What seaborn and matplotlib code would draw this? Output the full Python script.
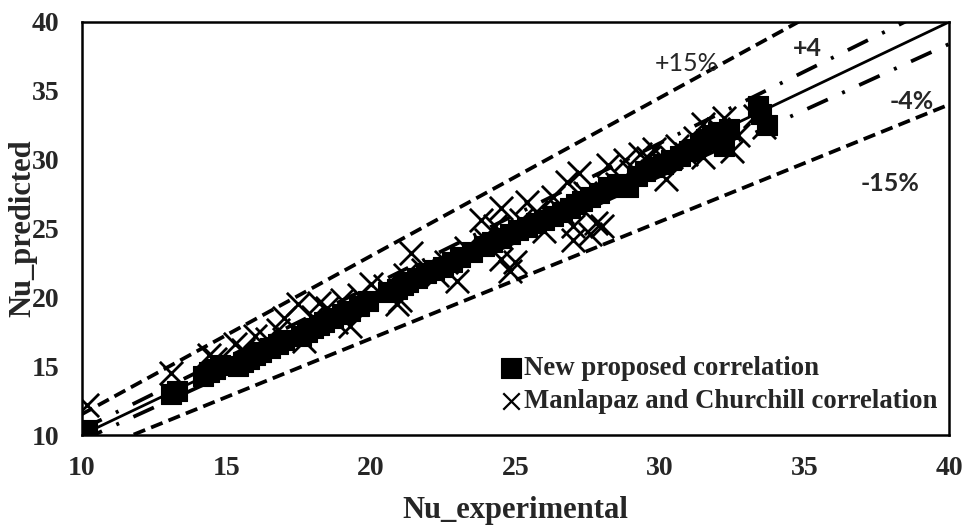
import matplotlib
matplotlib.use("Agg")
import matplotlib.pyplot as plt
import seaborn as sns
import numpy as np
import pandas as pd

# ---------------- data ----------------
new_x = [10.2, 13.1, 13.3, 14.2, 14.4, 14.6, 14.8, 15.4, 15.6, 15.8, 16.0, 16.2, 16.5, 16.8,
         17.0, 17.6, 17.8, 18.0, 18.2, 18.4, 18.7, 19.0, 19.3, 19.6, 19.9, 20.6, 20.9, 21.1,
         21.3, 21.6, 21.9, 22.2, 22.5, 22.8, 23.1, 23.5, 23.9, 24.2, 24.5, 24.8, 25.1, 25.4,
         25.7, 26.0, 26.3, 26.6, 26.9, 27.1, 27.3, 27.6, 27.9, 28.2, 28.5, 28.9, 29.2, 29.5,
         29.8, 30.1, 30.4, 30.7, 31.0, 31.2, 31.4, 31.6, 31.8, 32.0, 32.2, 32.4, 33.4, 33.5, 33.7]
new_y = [10.4, 13.0, 13.2, 14.3, 14.6, 14.8, 15.1, 15.0, 15.3, 15.5, 15.8, 16.0, 16.3, 16.6,
         16.9, 17.2, 17.5, 17.8, 18.0, 18.2, 18.5, 18.8, 19.0, 19.4, 19.7, 20.4, 20.6, 20.9,
         21.1, 21.4, 21.8, 22.0, 22.2, 22.6, 22.9, 23.3, 23.7, 24.0, 24.3, 24.6, 24.9, 25.1,
         25.4, 25.6, 25.9, 26.2, 26.5, 26.8, 27.0, 27.3, 27.6, 28.0, 28.2, 28.0, 28.8, 29.2,
         29.5, 29.7, 30.0, 30.3, 30.6, 30.8, 31.2, 31.5, 31.8, 32.0, 31.0, 32.2, 33.9, 33.3, 32.5]

mc_x = [10.2, 13.1, 14.4, 14.6, 15.3, 15.6, 16.0, 16.4, 16.8, 17.0, 17.5, 17.7, 18.0, 18.2,
        18.5, 18.8, 19.0, 19.3, 19.6, 20.0, 20.5, 20.9, 21.0, 21.2, 21.4, 21.8, 22.3, 22.6,
        23.0, 23.3, 23.8, 24.0, 24.3, 24.5, 24.5, 24.8, 25.0, 25.2, 25.4, 25.7, 26.0, 26.3,
        26.6, 26.8, 27.0, 27.0, 27.2, 27.4, 27.6, 27.8, 28.0, 28.2, 28.5, 28.8, 29.0, 29.3,
        29.6, 29.8, 30.2, 30.4, 30.6, 30.9, 31.2, 31.5, 31.5, 31.8, 32.0, 32.2, 32.5, 32.7,
        33.3, 33.6]
mc_y = [12.2, 14.5, 15.8, 15.5, 16.6, 16.2, 17.2, 17.0, 17.6, 18.5, 19.5, 16.8, 18.6, 19.6,
        19.2, 18.2, 19.8, 17.9, 20.2, 21.0, 20.8, 19.5, 19.8, 21.6, 23.2, 22.0, 21.6, 22.6,
        21.2, 23.6, 25.6, 24.2, 25.2, 26.5, 22.8, 21.9, 22.6, 25.6, 26.9, 26.2, 24.8, 27.3,
        26.2, 28.4, 24.2, 25.2, 29.0, 27.6, 24.6, 25.4, 25.2, 29.6, 28.2, 30.0, 29.2, 30.4,
        30.1, 30.8, 28.6, 30.2, 31.0, 30.4, 31.6, 32.6, 30.2, 31.2, 32.2, 33.0, 30.6, 31.8,
        33.2, 32.4]

ref_x = [10, 40]
band_factors = [1.15, 1.04, 1.0, 0.96, 0.85]
band_labels = ["+15%", "+4", "", "-4%", "-15%"]
label_pos_x = [30.94, 35.1, None, 38.7, 37.95]
label_pos_y = [37.0, 38.1, None, 34.2, 28.3]
label_bold = [False, True, False, True, True]

ticks = [10, 15, 20, 25, 30, 35, 40]

# ---------------- figure ----------------
sns.set_theme(style="white")
plt.rcParams["font.family"] = ["Liberation Serif", "DejaVu Serif"]

fig = plt.figure(figsize=(9.65, 5.25), dpi=100)
ax = fig.add_axes([0.0845, 0.1714, 0.899, 0.7867])

line_styles = [(0, (3.3, 1.7)), (0, (6, 4.2, 0.8, 4.2)), "-", (0, (6, 4.2, 0.8, 4.2)), (0, (3.3, 1.7))]
line_widths = [2.7, 2.7, 2.0, 2.7, 2.7]
for f, ls, lw in zip(band_factors, line_styles, line_widths):
    df_line = pd.DataFrame({"x": ref_x, "y": [v * f for v in ref_x]})
    sns.lineplot(data=df_line, x="x", y="y", ax=ax, color="black",
                 linestyle=ls, linewidth=lw, zorder=2)

df_mc = pd.DataFrame({"x": mc_x, "y": mc_y})
df_new = pd.DataFrame({"x": new_x, "y": new_y})
sns.scatterplot(data=df_mc, x="x", y="y", ax=ax, marker="x", s=280, color="black",
                linewidth=2.0, zorder=3, label="Manlapaz and Churchill correlation")
sns.scatterplot(data=df_new, x="x", y="y", ax=ax, marker="s", s=210, color="black",
                edgecolor="black", linewidth=0.8, zorder=4, label="New proposed correlation")

for lab, lx, ly, b in zip(band_labels, label_pos_x, label_pos_y, label_bold):
    if lab:
        ax.text(lx, ly, lab, ha="center", va="center", fontsize=18,
                family=["Lato", "DejaVu Sans"], fontweight="bold" if b else "normal",
                zorder=5)

ax.set_xlim(10, 40)
ax.set_ylim(10, 40)
ax.set_xticks(ticks)
ax.set_yticks(ticks)
ax.set_xticklabels([str(t) for t in ticks], fontweight="bold", fontsize=20)
ax.set_yticklabels([str(t) for t in ticks], fontweight="bold", fontsize=20)
ax.tick_params(direction="in", length=7, width=1.3, pad=15, color="black")
ax.tick_params(axis="y", pad=16)
for sp in ax.spines.values():
    sp.set_color("black")
    sp.set_linewidth(1.8)
    sp.set_visible(True)

ax.set_xlabel("Nu_experimental", fontweight="bold", fontsize=22, va="baseline")
ax.xaxis.set_label_coords(0.5, -0.201)
ax.set_ylabel("Nu_predicted", fontweight="bold", fontsize=22, va="center")
ax.yaxis.set_label_coords(-0.0674, 0.5)

handles, labels = ax.get_legend_handles_labels()
order = [labels.index("New proposed correlation"), labels.index("Manlapaz and Churchill correlation")]
leg = ax.legend([handles[i] for i in order], [labels[i] for i in order],
                loc="lower left", bbox_to_anchor=(0.484, 0.05), frameon=False,
                prop={"family": "Liberation Serif", "weight": "bold", "size": 19.3},
                handlelength=0.7, handletextpad=0.15, labelspacing=0.3,
                borderpad=0, borderaxespad=0)
leg.legend_handles[0].set_sizes([190])
leg.legend_handles[1].set_sizes([140])
leg.legend_handles[1].set_linewidth(1.6)

fig.savefig("out.png", dpi=100)
